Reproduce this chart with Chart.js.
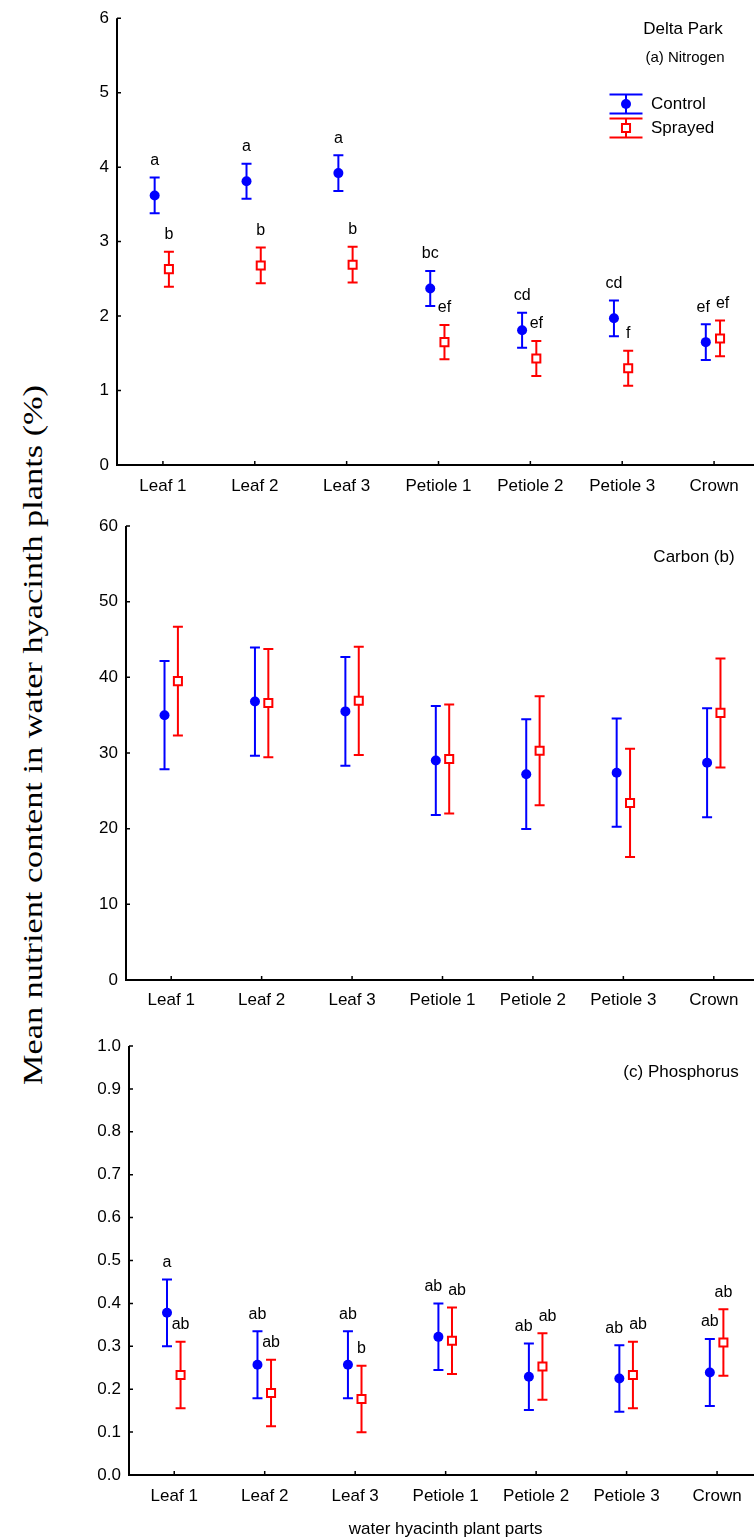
<!DOCTYPE html>
<html>
<head>
<meta charset="utf-8">
<script src="https://cdn.jsdelivr.net/npm/chart.js@4.4.1/dist/chart.umd.min.js"></script>
<style>
	html, body { margin: 0; padding: 0; background: #fff; overflow: hidden; }
	body { width: 754px; height: 1540px; position: relative; }
	.panel { position: absolute; left: 0; }
	#ytitle {
		position: absolute; left: 33px; top: 735px;
		font-family: "Liberation Serif", "Times New Roman", serif;
		font-size: 27px; white-space: nowrap; color: #000;
		transform-origin: center center;
	}
</style>
</head>
<body>
<div id="ytitle">Mean nutrient content in water hyacinth plants (%)</div>
<div class="panel" style="top:0"><canvas id="nitrogen" width="770" height="500"></canvas></div>
<div class="panel" style="top:500px"><canvas id="carbon" width="770" height="520"></canvas></div>
<div class="panel" style="top:1020px"><canvas id="phosphorus" width="770" height="520"></canvas></div>
<script>
const categories = ["Leaf 1", "Leaf 2", "Leaf 3", "Petiole 1", "Petiole 2", "Petiole 3", "Crown"];

// (a) Nitrogen, %
const nitrogenTicks = [0, 1, 2, 3, 4, 5, 6];
const nitrogenControl = [3.62, 3.81, 3.92, 2.37, 1.81, 1.97, 1.65];
const nitrogenControlErr = [0.24, 0.235, 0.24, 0.235, 0.235, 0.24, 0.24];
const nitrogenSprayed = [2.63, 2.68, 2.69, 1.65, 1.43, 1.3, 1.7];
const nitrogenSprayedErr = [0.235, 0.24, 0.24, 0.23, 0.235, 0.235, 0.24];
const nitrogenControlLetters = ["a", "a", "a", "bc", "cd", "cd", "ef"];
const nitrogenSprayedLetters = ["b", "b", "b", "ef", "ef", "f", "ef"];

// (b) Carbon, %
const carbonTicks = [0, 10, 20, 30, 40, 50, 60];
const carbonControl = [35.0, 36.8, 35.5, 29.0, 27.2, 27.4, 28.7];
const carbonControlErr = [7.15, 7.15, 7.2, 7.2, 7.25, 7.15, 7.2];
const carbonSprayed = [39.5, 36.6, 36.9, 29.2, 30.3, 23.4, 35.3];
const carbonSprayedErr = [7.2, 7.15, 7.15, 7.2, 7.2, 7.15, 7.2];

// (c) Phosphorus, %
const phosphorusTicks = [0.0, 0.1, 0.2, 0.3, 0.4, 0.5, 0.6, 0.7, 0.8, 0.9, 1.0];
const phosphorusControl = [0.378, 0.257, 0.257, 0.322, 0.229, 0.225, 0.239];
const phosphorusControlErr = [0.078, 0.078, 0.078, 0.0775, 0.0775, 0.0775, 0.078];
const phosphorusSprayed = [0.233, 0.191, 0.177, 0.313, 0.253, 0.233, 0.309];
const phosphorusSprayedErr = [0.0775, 0.0775, 0.0775, 0.0775, 0.0775, 0.0775, 0.0775];
const phosphorusControlLetters = ["a", "ab", "ab", "ab", "ab", "ab", "ab"];
const phosphorusSprayedLetters = ["ab", "ab", "b", "ab", "ab", "ab", "ab"];

const BLUE = "#0000ff";
const RED = "#ff0000";
const FONT = '"Liberation Sans", Arial, sans-serif';

Chart.defaults.font.family = FONT;
Chart.defaults.color = "#000";

// stretch the shared y title to the length it has in the figure
const ytitle = document.getElementById("ytitle");
const stretch = 700 / ytitle.offsetWidth;
ytitle.style.transform = `translate(-50%, -50%) rotate(-90deg) scaleX(${stretch})`;

function toPoints(means, errs, shift) {
	return means.map((m, i) => ({ x: i + shift, y: m, err: errs[i] }));
}

// vertical error bars with short caps, drawn under the markers
const errorBars = {
	id: "errorBars",
	beforeDatasetsDraw(chart) {
		const { ctx } = chart;
		const x = chart.scales.x;
		const y = chart.scales.y;
		chart.data.datasets.forEach((ds) => {
			ctx.save();
			ctx.strokeStyle = ds.borderColor;
			ctx.lineWidth = 2;
			ctx.beginPath();
			ds.data.forEach((pt) => {
				const px = x.getPixelForValue(pt.x);
				const top = y.getPixelForValue(pt.y + pt.err);
				const bot = y.getPixelForValue(pt.y - pt.err);
				ctx.moveTo(px, top);
				ctx.lineTo(px, bot);
				ctx.moveTo(px - 5, top);
				ctx.lineTo(px + 5, top);
				ctx.moveTo(px - 5, bot);
				ctx.lineTo(px + 5, bot);
			});
			ctx.stroke();
			ctx.restore();
		});
	},
};

// L-shaped axes with short inward ticks
const axesLines = {
	id: "axesLines",
	beforeDatasetsDraw(chart) {
		const { ctx, chartArea } = chart;
		const { left, right, top, bottom } = chartArea;
		const x = chart.scales.x;
		const y = chart.scales.y;
		ctx.save();
		ctx.strokeStyle = "#000";
		ctx.lineWidth = 2;
		ctx.beginPath();
		ctx.moveTo(left, top);
		ctx.lineTo(left, bottom);
		ctx.lineTo(right + 20, bottom);
		ctx.stroke();
		ctx.lineWidth = 1.5;
		ctx.beginPath();
		y.ticks.forEach((t) => {
			const py = y.getPixelForValue(t.value);
			ctx.moveTo(left, py);
			ctx.lineTo(left + 4, py);
		});
		x.ticks.forEach((t) => {
			const px = x.getPixelForValue(t.value);
			ctx.moveTo(px, bottom);
			ctx.lineTo(px, bottom - 4);
		});
		ctx.stroke();
		ctx.restore();
	},
};

// significance letters above the upper whisker
const letterLabels = {
	id: "letterLabels",
	afterDatasetsDraw(chart) {
		const { ctx } = chart;
		const x = chart.scales.x;
		const y = chart.scales.y;
		const sets = chart.data.datasets.filter((ds) => ds.letters);
		if (!sets.length) return;
		ctx.save();
		ctx.font = `16px ${FONT}`;
		ctx.fillStyle = "#000";
		ctx.textAlign = "center";
		ctx.textBaseline = "middle";
		categories.forEach((c, i) => {
			const items = sets.map((ds) => {
				const pt = ds.data[i];
				const text = ds.letters[i];
				return {
					text,
					x: x.getPixelForValue(pt.x),
					y: y.getPixelForValue(pt.y + pt.err) - 17,
					w: ctx.measureText(text).width,
				};
			});
			if (items.length === 2 && Math.abs(items[0].y - items[1].y) < 14) {
				const need = (items[0].w + items[1].w) / 2 + 6;
				const gap = items[1].x - items[0].x;
				if (gap < need) {
					const d = (need - gap) / 2;
					items[0].x -= d;
					items[1].x += d;
				}
			}
			items.forEach((it) => ctx.fillText(it.text, it.x, it.y));
		});
		ctx.restore();
	},
};

// panel captions and the legend of panel (a)
const panelText = {
	id: "panelText",
	afterDraw(chart, args, opts) {
		const { ctx } = chart;
		ctx.save();
		ctx.fillStyle = "#000";
		ctx.textBaseline = "middle";
		(opts.items || []).forEach((it) => {
			ctx.font = `${it.size}px ${FONT}`;
			ctx.textAlign = it.align || "center";
			ctx.fillText(it.text, it.x, it.y);
		});
		if (opts.legend) {
			const lg = opts.legend;
			chart.data.datasets.forEach((ds, i) => {
				const cy = lg.y + i * lg.step;
				const cx = lg.x;
				ctx.strokeStyle = ds.borderColor;
				ctx.lineWidth = 2;
				ctx.beginPath();
				ctx.moveTo(cx - 16.5, cy - 9.5);
				ctx.lineTo(cx + 16.5, cy - 9.5);
				ctx.moveTo(cx - 16.5, cy + 9.5);
				ctx.lineTo(cx + 16.5, cy + 9.5);
				ctx.moveTo(cx, cy - 9.5);
				ctx.lineTo(cx, cy + 9.5);
				ctx.stroke();
				ctx.fillStyle = ds.backgroundColor;
				ctx.strokeStyle = ds.borderColor;
				ctx.lineWidth = ds.borderWidth;
				ctx.beginPath();
				if (ds.pointStyle === "circle") {
					ctx.arc(cx, cy, ds.pointRadius, 0, Math.PI * 2);
					ctx.fill();
				} else {
					const h = ds.pointRadius * Math.SQRT1_2;
					ctx.rect(cx - h, cy - h, 2 * h, 2 * h);
					ctx.fill();
					ctx.stroke();
				}
				ctx.fillStyle = "#000";
				ctx.font = `17px ${FONT}`;
				ctx.textAlign = "left";
				ctx.fillText(ds.label, cx + 25, cy);
			});
		}
		ctx.restore();
	},
};

function makePanel(id, cfg) {
	return new Chart(document.getElementById(id), {
		type: "scatter",
		data: {
			datasets: [
				{
					label: "Control",
					data: toPoints(cfg.control, cfg.controlErr, cfg.shift[0]),
					letters: cfg.controlLetters,
					pointStyle: "circle",
					pointRadius: 5,
					borderWidth: 0,
					backgroundColor: BLUE,
					borderColor: BLUE,
				},
				{
					label: "Sprayed",
					data: toPoints(cfg.sprayed, cfg.sprayedErr, cfg.shift[1]),
					letters: cfg.sprayedLetters,
					pointStyle: "rect",
					pointRadius: 5.7,
					borderWidth: 2,
					backgroundColor: "#ffffff",
					borderColor: RED,
				},
			],
		},
		options: {
			responsive: false,
			animation: false,
			layout: { padding: { top: cfg.padTop, right: cfg.padRight, left: 0, bottom: 0 } },
			plugins: {
				legend: { display: false },
				tooltip: { enabled: false },
				panelText: { items: cfg.texts, legend: cfg.legend },
			},
			scales: {
				x: {
					type: "linear",
					min: -0.5,
					max: 6.5,
					afterBuildTicks: (s) => {
						s.ticks = categories.map((c, i) => ({ value: i }));
					},
					afterFit: (s) => {
						s.height = cfg.xHeight;
					},
					ticks: {
						callback: (v) => categories[v],
						font: { size: 17 },
						padding: cfg.xPad,
						maxRotation: 0,
						autoSkip: false,
					},
					grid: { display: false, drawTicks: false },
					border: { display: false },
					title: {
						display: Boolean(cfg.xTitle),
						text: cfg.xTitle || "",
						font: { size: 17 },
						padding: { top: 0, bottom: 0 },
					},
				},
				y: {
					min: cfg.ticks[0],
					max: cfg.ticks[cfg.ticks.length - 1],
					afterBuildTicks: (s) => {
						s.ticks = cfg.ticks.map((v) => ({ value: v }));
					},
					afterFit: (s) => {
						s.width = cfg.axisLeft;
					},
					ticks: {
						callback: (v) => v.toFixed(cfg.decimals),
						font: { size: 17 },
						padding: 8,
					},
					grid: { display: false, drawTicks: false },
					border: { display: false },
				},
			},
		},
		plugins: [axesLines, errorBars, letterLabels, panelText],
	});
}

makePanel("nitrogen", {
	control: nitrogenControl,
	controlErr: nitrogenControlErr,
	sprayed: nitrogenSprayed,
	sprayedErr: nitrogenSprayedErr,
	controlLetters: nitrogenControlLetters,
	sprayedLetters: nitrogenSprayedLetters,
	ticks: nitrogenTicks,
	decimals: 0,
	shift: [-0.09, 0.065],
	axisLeft: 117,
	padTop: 14,
	padRight: 10,
	xHeight: 35,
	xPad: 11,
	texts: [
		{ text: "Delta Park", x: 683, y: 29, size: 17 },
		{ text: "(a) Nitrogen", x: 685, y: 58, size: 15 },
	],
	legend: { x: 626, y: 104, step: 24 },
});

makePanel("carbon", {
	control: carbonControl,
	controlErr: carbonControlErr,
	sprayed: carbonSprayed,
	sprayedErr: carbonSprayedErr,
	ticks: carbonTicks,
	decimals: 0,
	shift: [-0.074, 0.074],
	axisLeft: 126,
	padTop: 26,
	padRight: 11,
	xHeight: 40,
	xPad: 10,
	texts: [{ text: "Carbon (b)", x: 694, y: 57, size: 17 }],
});

makePanel("phosphorus", {
	control: phosphorusControl,
	controlErr: phosphorusControlErr,
	sprayed: phosphorusSprayed,
	sprayedErr: phosphorusSprayedErr,
	controlLetters: phosphorusControlLetters,
	sprayedLetters: phosphorusSprayedLetters,
	ticks: phosphorusTicks,
	decimals: 1,
	shift: [-0.08, 0.07],
	axisLeft: 129,
	padTop: 26,
	padRight: 4,
	xHeight: 65,
	xPad: 11,
	xTitle: "water hyacinth plant parts",
	texts: [{ text: "(c) Phosphorus", x: 681, y: 52, size: 17 }],
});
</script>
</body>
</html>
